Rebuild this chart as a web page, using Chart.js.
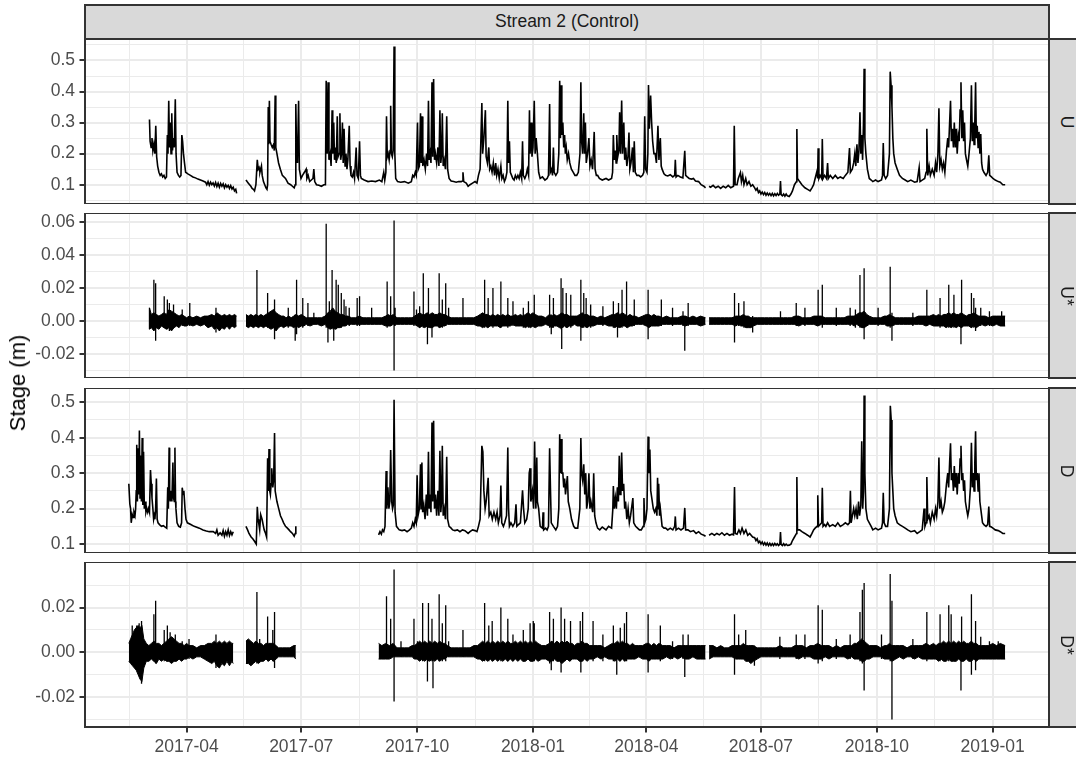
<!DOCTYPE html>
<html>
<head>
<meta charset="utf-8">
<script src="https://cdn.jsdelivr.net/npm/chart.js@4.4.1/dist/chart.umd.min.js"></script>
<style>
html,body{margin:0;padding:0;background:#fff;}
#wrap{position:relative;width:1076px;height:757px;overflow:hidden;background:#fff;font-family:"Liberation Sans",Arial,sans-serif;}
#wrap canvas{position:absolute;left:0;}
.strip{position:absolute;background:#D9D9D9;border:2px solid #333;box-sizing:border-box;z-index:2;}
.txt{position:absolute;white-space:nowrap;transform-origin:center center;z-index:3;line-height:1;}
</style>
</head>
<body>
<div id="wrap"></div>
<script>
// ---------- DATA (x = days since 2017-01-01) ----------
const DAY0 = '2017-01-01';
const STRIP_TITLE = 'Stream 2 (Control)';
const PANEL_LABELS = ['U', 'U*', 'D', 'D*'];
const Y_TITLE = 'Stage (m)';
const X_TICK_DATES = ['2017-04-01','2017-07-01','2017-10-01','2018-01-01','2018-04-01','2018-07-01','2018-10-01','2019-01-01'];
const X_TICK_LABELS = ['2017-04','2017-07','2017-10','2018-01','2018-04','2018-07','2018-10','2019-01'];
const X_GRID_EDGE_DATES = ['2017-01-01','2019-04-01'];
const U_TICKS = [0.1,0.2,0.3,0.4,0.5];
const UST_TICKS = [-0.02,0,0.02,0.04,0.06];
const D_TICKS = [0.1,0.2,0.3,0.4,0.5];
const DST_TICKS = [-0.02,0,0.02];

// Upstream stage [day, value]; null = gap
const U_SERIES = [
[60.5,0.31],[61,0.24],[61.8,0.22],[62.5,0.25],[63.2,0.21],[64,0.23],[64.8,0.2],[65.5,0.29],[66.2,0.19],[67,0.16],[68,0.14],[69,0.13],[70,0.135],[71,0.125],[72,0.13],[73,0.12],[74,0.125],[74.7,0.26],[75.2,0.2],[75.8,0.37],[76.4,0.22],[77,0.3],[77.6,0.2],[78.2,0.33],[78.8,0.21],[79.5,0.25],[80.2,0.22],[81,0.375],[81.6,0.2],[82.4,0.14],[83.5,0.13],[84.5,0.125],[85.5,0.13],[86.2,0.26],[86.8,0.24],[87.5,0.2],[88.3,0.17],[89.2,0.14],[91,0.135],[93,0.13],[95,0.125],[97,0.122],[99,0.118],[101,0.115],[103,0.112],[105,0.108],[106,0.1],[107,0.11],[108,0.098],[109,0.108],[110,0.1],[111,0.106],[112,0.096],[113,0.107],[114,0.094],[115,0.105],[116,0.092],[117,0.104],[118,0.095],[119,0.103],[120,0.09],[121,0.1],[122,0.092],[123,0.098],[124,0.088],[125,0.097],[126,0.086],[127,0.092],[128,0.08],[129,0.085],[129.7,0.072],
null,
[137.1,0.115],[138,0.11],[139,0.105],[140,0.1],[141,0.095],[142,0.088],[143,0.085],[143.9,0.08],[145,0.1],[146.1,0.18],[146.8,0.15],[147.5,0.155],[148.2,0.14],[149.4,0.16],[150,0.13],[151,0.11],[152,0.1],[153,0.09],[153.8,0.085],[154.3,0.1],[154.8,0.35],[155.2,0.23],[155.7,0.37],[156.2,0.24],[157,0.23],[158,0.22],[159,0.23],[159.6,0.21],[160.3,0.387],[160.8,0.22],[161.7,0.2],[163,0.17],[164.4,0.15],[166,0.13],[168.5,0.12],[170.5,0.105],[172.6,0.1],[174,0.095],[175.4,0.09],[176.2,0.1],[176.7,0.36],[177.3,0.2],[178,0.17],[178.9,0.37],[179.5,0.15],[180.8,0.12],[182,0.13],[183.5,0.14],[184.9,0.15],[185.5,0.12],[186.5,0.13],[187.7,0.11],[189,0.115],[190.3,0.12],[191,0.15],[191.7,0.11],[193.1,0.1],[195,0.098],[197,0.095],[199,0.1],[200.2,0.1],[200.8,0.435],[201.6,0.2],[202.3,0.43],[203,0.18],[204,0.2],[204.7,0.16],[205.5,0.34],[206,0.2],[206.8,0.3],[207.4,0.18],[208,0.22],[208.8,0.17],[209.6,0.32],[210.2,0.19],[211,0.2],[211.7,0.33],[212.3,0.18],[213,0.2],[213.7,0.3],[214.3,0.17],[215,0.28],[215.8,0.16],[216.5,0.2],[217.3,0.15],[218,0.18],[219.1,0.29],[219.8,0.16],[220.5,0.13],[221.5,0.125],[222.5,0.14],[223.3,0.12],[224.6,0.22],[225.3,0.13],[226.3,0.12],[227.3,0.24],[228,0.13],[228.7,0.12],[231,0.115],[234,0.11],[237,0.112],[240,0.11],[243,0.115],[245,0.11],[246.5,0.14],[247.3,0.115],[248.2,0.14],[248.7,0.32],[249.3,0.19],[250,0.2],[250.8,0.18],[251.5,0.21],[252,0.354],[252.6,0.2],[253.3,0.19],[254,0.21],[254.7,0.545],[255.3,0.2],[256,0.12],[257.5,0.11],[260,0.108],[263,0.11],[266,0.105],[268.4,0.11],[269.5,0.13],[270.5,0.125],[271.5,0.14],[272.3,0.13],[273.3,0.3],[273.9,0.15],[274.8,0.16],[275.7,0.33],[276.2,0.17],[276.9,0.32],[277.5,0.16],[278.5,0.18],[279.5,0.15],[280.5,0.2],[281.3,0.16],[282,0.37],[282.6,0.18],[283.3,0.2],[284,0.17],[284.8,0.43],[285.4,0.19],[286.1,0.44],[286.8,0.18],[287.5,0.2],[288.5,0.17],[289.5,0.22],[290.3,0.16],[291.1,0.34],[291.8,0.17],[292.5,0.2],[293,0.33],[293.7,0.16],[294.5,0.18],[295.5,0.15],[296.5,0.32],[297.2,0.15],[298.4,0.12],[300,0.112],[302,0.11],[304,0.108],[306,0.11],[308,0.11],[309,0.112],[309.4,0.14],[310,0.11],[312,0.105],[313.5,0.095],[315,0.1],[317,0.105],[319,0.11],[320.5,0.105],[321.7,0.13],[323,0.15],[324.4,0.363],[325,0.2],[326,0.25],[327.2,0.34],[327.8,0.19],[328.8,0.17],[329.9,0.22],[330.6,0.15],[331.5,0.16],[332.5,0.14],[333.5,0.17],[334.5,0.13],[335.4,0.17],[336.2,0.13],[337.2,0.15],[338.2,0.12],[339.5,0.16],[340.3,0.12],[341.3,0.13],[342.3,0.11],[343.3,0.12],[344.3,0.14],[345,0.37],[345.6,0.17],[346.3,0.24],[347,0.14],[348,0.13],[349,0.12],[350,0.115],[351,0.13],[352,0.12],[353,0.13],[354,0.12],[355,0.14],[356,0.12],[356.7,0.24],[357.3,0.13],[358.5,0.12],[359.5,0.13],[360.5,0.15],[361.5,0.13],[362.2,0.34],[362.7,0.2],[363.5,0.3],[364.2,0.19],[365,0.22],[366,0.37],[366.7,0.2],[367.5,0.25],[368.5,0.2],[369.5,0.14],[370.7,0.12],[372.5,0.125],[374.5,0.115],[376.2,0.12],[377.3,0.13],[378.2,0.36],[378.8,0.14],[379.8,0.15],[380.5,0.13],[381.2,0.22],[381.8,0.14],[383.1,0.13],[384.5,0.14],[385.5,0.2],[386.2,0.435],[386.8,0.25],[387.3,0.42],[387.9,0.26],[388.7,0.3],[389.4,0.22],[390.1,0.26],[390.7,0.2],[391.4,0.22],[392.2,0.18],[393.2,0.2],[394.2,0.17],[395.5,0.15],[397,0.14],[398.3,0.13],[399.7,0.13],[401,0.14],[402.3,0.2],[403,0.43],[403.6,0.24],[404.4,0.2],[405.3,0.33],[405.9,0.2],[406.6,0.3],[407.3,0.17],[408.3,0.2],[409.4,0.25],[410.2,0.16],[411.2,0.18],[412.3,0.15],[413.6,0.27],[414.3,0.15],[415.3,0.13],[416.3,0.13],[417.7,0.12],[420,0.115],[423,0.12],[425,0.115],[427.4,0.12],[428.2,0.14],[428.8,0.26],[429.5,0.18],[430.3,0.21],[431,0.17],[431.5,0.26],[432.3,0.19],[433.2,0.21],[433.8,0.333],[434.5,0.2],[435.4,0.371],[436.1,0.2],[437.1,0.3],[437.8,0.18],[438.6,0.22],[439.5,0.16],[440.4,0.19],[441.2,0.268],[441.9,0.15],[442.8,0.17],[444,0.22],[444.7,0.14],[445.4,0.24],[446.2,0.14],[447.5,0.13],[449,0.13],[450.5,0.125],[452,0.13],[453,0.14],[453.7,0.32],[454.4,0.15],[455.5,0.14],[456.2,0.2],[456.7,0.421],[457.4,0.28],[458.4,0.387],[459.2,0.3],[460,0.24],[461,0.2],[462,0.2],[463,0.17],[464.2,0.29],[465,0.18],[466.1,0.25],[466.8,0.16],[467.5,0.15],[469,0.135],[470.3,0.13],[472,0.128],[474,0.132],[476,0.125],[477.5,0.13],[478,0.18],[478.6,0.125],[480,0.13],[482,0.125],[484,0.122],[485.5,0.209],[486.2,0.13],[487.5,0.125],[489,0.12],[491,0.118],[492.4,0.12],[494,0.112],[496.5,0.11],[498.5,0.1],[500.7,0.095],[502,0.09],
null,
[504.8,0.095],[506,0.092],[508,0.098],[510,0.09],[512,0.095],[514,0.088],[516,0.095],[518,0.09],[520,0.098],[522,0.09],[524.2,0.095],[524.8,0.29],[525.5,0.1],[527,0.1],[528,0.12],[529.7,0.139],[530.5,0.11],[531.5,0.13],[532.5,0.1],[533.9,0.12],[535,0.1],[536.5,0.11],[538,0.095],[539.4,0.1],[541,0.09],[542,0.082],[543,0.088],[544,0.075],[545,0.08],[546,0.07],[547,0.076],[548,0.068],[549,0.075],[550,0.066],[551,0.073],[552,0.066],[553,0.072],[554,0.065],[555,0.072],[556,0.064],[557,0.071],[558,0.065],[559,0.072],[560,0.066],[561,0.07],[561.5,0.112],[562,0.068],[563,0.064],[564,0.07],[565,0.063],[566,0.07],[567,0.064],[568.4,0.062],[569.8,0.07],[571,0.08],[572.6,0.1],[574.2,0.11],[574.5,0.279],[575,0.12],[576.7,0.11],[578.5,0.1],[580.9,0.09],[583,0.085],[585,0.08],[586.5,0.09],[587.8,0.1],[589,0.12],[590.5,0.144],[591,0.12],[591.4,0.217],[592,0.12],[593,0.13],[594.2,0.12],[594.7,0.247],[595.3,0.12],[596.5,0.13],[598,0.12],[598.9,0.17],[599.5,0.12],[601,0.13],[603,0.12],[605,0.13],[607,0.12],[609,0.125],[611.3,0.12],[613,0.13],[615,0.14],[616.3,0.218],[617,0.14],[618.5,0.15],[619.6,0.17],[620.5,0.2],[621.3,0.16],[622.2,0.23],[623,0.17],[623.8,0.21],[624.6,0.333],[625.3,0.2],[626,0.26],[626.7,0.18],[627.4,0.3],[627.9,0.473],[628.5,0.25],[629.3,0.2],[630.5,0.15],[632,0.12],[633.5,0.115],[634.8,0.11],[637,0.115],[639,0.11],[641.7,0.115],[642.5,0.13],[643.1,0.234],[643.8,0.13],[645,0.12],[646.5,0.13],[648,0.2],[648.6,0.464],[649.3,0.42],[650,0.35],[650.7,0.25],[651.4,0.2],[652.5,0.17],[654.2,0.15],[656,0.13],[658.3,0.12],[660.5,0.115],[662.5,0.11],[665,0.115],[668,0.108],[670,0.11],[671.6,0.155],[672.3,0.11],[674,0.115],[676,0.12],[677.1,0.14],[677.7,0.28],[678.4,0.13],[679.5,0.16],[680.5,0.13],[682,0.15],[683.5,0.13],[684.6,0.17],[685.5,0.14],[686.5,0.2],[687.3,0.346],[688,0.16],[689,0.18],[690,0.15],[691,0.17],[692,0.14],[693.3,0.21],[694.3,0.25],[695,0.22],[695.8,0.3],[696.5,0.37],[697.2,0.24],[698,0.28],[698.8,0.22],[699.5,0.3],[700.3,0.22],[701,0.28],[701.8,0.2],[702.6,0.26],[703.4,0.24],[704.1,0.34],[704.8,0.43],[705.5,0.25],[706.2,0.34],[706.9,0.24],[707.6,0.3],[708.3,0.2],[709.2,0.18],[710.2,0.16],[711.2,0.2],[712.3,0.25],[713.1,0.42],[713.8,0.24],[714.5,0.3],[715.2,0.23],[715.8,0.3],[716.4,0.43],[717,0.25],[717.7,0.29],[718.4,0.22],[719.1,0.27],[719.8,0.2],[720.5,0.263],[721.2,0.17],[721.9,0.15],[723,0.14],[724.7,0.13],[726,0.14],[726.9,0.195],[727.6,0.13],[729,0.125],[730.2,0.12],[732,0.115],[734.4,0.11],[736,0.108],[738,0.1],[739.9,0.1]
];

// Upstream residual: noise band [day, upper, lower]; null = gap
const UST_BAND = [
[60.5,0.008,-0.005],[62,0.004,-0.004],[64,0.005,-0.006],[66,0.004,-0.004],[68,0.003,-0.005],[70,0.004,-0.003],[72,0.005,-0.004],[74,0.004,-0.005],[76,0.007,-0.004],[78,0.006,-0.006],[80,0.005,-0.004],[82,0.004,-0.003],[84,0.003,-0.004],[86,0.004,-0.002],[88,0.003,-0.003],[90,0.002,-0.003],[92,0.003,-0.002],[95,0.002,-0.003],[98,0.003,-0.002],[101,0.002,-0.003],[104,0.003,-0.002],[107,0.003,-0.004],[110,0.004,-0.003],[112,0.003,-0.005],[114,0.005,-0.004],[116,0.004,-0.006],[118,0.003,-0.004],[120,0.004,-0.005],[122,0.003,-0.003],[124,0.004,-0.005],[126,0.003,-0.003],[128,0.004,-0.004],[129.7,0.003,-0.003],
null,
[137.1,0.004,-0.003],[139,0.003,-0.004],[141,0.004,-0.003],[143,0.003,-0.004],[145,0.004,-0.003],[147,0.003,-0.004],[149,0.004,-0.003],[151,0.003,-0.004],[153,0.004,-0.003],[155,0.005,-0.004],[157,0.006,-0.005],[159,0.007,-0.004],[161,0.005,-0.006],[163,0.004,-0.004],[165,0.003,-0.003],[167,0.003,-0.004],[169,0.002,-0.003],[171,0.003,-0.003],[173,0.002,-0.003],[175,0.003,-0.004],[177,0.004,-0.003],[179,0.003,-0.004],[181,0.004,-0.003],[183,0.003,-0.003],[185,0.002,-0.002],[188,0.002,-0.003],[191,0.002,-0.002],[194,0.002,-0.002],[197,0.002,-0.003],[200,0.003,-0.002],[202,0.005,-0.004],[204,0.006,-0.005],[206,0.008,-0.004],[208,0.006,-0.005],[210,0.005,-0.004],[212,0.004,-0.004],[214,0.004,-0.003],[216,0.003,-0.003],[218,0.003,-0.002],[221,0.002,-0.002],[224,0.002,-0.002],[227,0.003,-0.002],[230,0.002,-0.002],[233,0.002,-0.002],[236,0.002,-0.002],[239,0.002,-0.002],[242,0.002,-0.002],[245,0.002,-0.002],[248,0.003,-0.003],[250,0.004,-0.003],[252,0.003,-0.003],[254,0.004,-0.002],[257,0.002,-0.002],[260,0.002,-0.002],[263,0.002,-0.002],[266,0.002,-0.002],[269,0.002,-0.002],[271,0.003,-0.002],[273,0.004,-0.003],[275,0.005,-0.004],[277,0.004,-0.003],[279,0.004,-0.004],[281,0.005,-0.003],[283,0.004,-0.004],[285,0.005,-0.004],[287,0.004,-0.003],[289,0.004,-0.003],[291,0.005,-0.004],[293,0.004,-0.003],[295,0.004,-0.003],[297,0.003,-0.002],[300,0.002,-0.002],[303,0.002,-0.002],[306,0.002,-0.002],[309,0.002,-0.002],[312,0.002,-0.002],[315,0.002,-0.002],[318,0.002,-0.002],[321,0.003,-0.003],[323,0.004,-0.003],[325,0.005,-0.004],[327,0.004,-0.003],[329,0.004,-0.004],[331,0.003,-0.003],[333,0.004,-0.003],[335,0.003,-0.003],[337,0.004,-0.003],[339,0.003,-0.004],[341,0.004,-0.003],[343,0.003,-0.003],[345,0.004,-0.003],[347,0.003,-0.003],[349,0.003,-0.002],[351,0.004,-0.003],[353,0.003,-0.003],[355,0.004,-0.003],[357,0.003,-0.003],[359,0.004,-0.004],[361,0.005,-0.003],[363,0.004,-0.004],[365,0.005,-0.003],[367,0.004,-0.004],[369,0.003,-0.003],[372,0.003,-0.003],[375,0.002,-0.002],[378,0.004,-0.003],[380,0.003,-0.004],[382,0.004,-0.003],[384,0.003,-0.003],[386,0.004,-0.004],[388,0.005,-0.004],[390,0.004,-0.003],[392,0.004,-0.004],[394,0.003,-0.003],[396,0.003,-0.003],[398,0.003,-0.002],[400,0.003,-0.003],[402,0.004,-0.003],[404,0.005,-0.004],[406,0.004,-0.003],[408,0.004,-0.004],[410,0.003,-0.003],[413,0.003,-0.003],[416,0.002,-0.002],[419,0.003,-0.002],[422,0.002,-0.002],[425,0.003,-0.003],[428,0.004,-0.003],[430,0.004,-0.004],[432,0.005,-0.003],[434,0.004,-0.004],[436,0.005,-0.003],[438,0.004,-0.003],[440,0.003,-0.004],[442,0.004,-0.003],[444,0.003,-0.003],[446,0.003,-0.002],[449,0.002,-0.002],[452,0.003,-0.002],[455,0.004,-0.003],[457,0.004,-0.004],[459,0.003,-0.003],[461,0.004,-0.003],[463,0.003,-0.003],[465,0.003,-0.003],[468,0.002,-0.002],[471,0.003,-0.002],[474,0.002,-0.002],[477,0.002,-0.002],[480,0.002,-0.002],[483,0.003,-0.002],[486,0.003,-0.003],[489,0.002,-0.002],[492,0.003,-0.002],[495,0.002,-0.002],[498,0.003,-0.003],[502,0.002,-0.002],
null,
[504.8,0.002,-0.002],[508,0.002,-0.002],[511,0.002,-0.002],[514,0.002,-0.002],[517,0.002,-0.002],[520,0.002,-0.002],[523,0.002,-0.002],[526,0.003,-0.003],[528,0.003,-0.002],[530,0.003,-0.003],[532,0.004,-0.003],[534,0.003,-0.004],[536,0.003,-0.004],[538,0.002,-0.004],[540,0.002,-0.003],[543,0.002,-0.002],[546,0.002,-0.002],[549,0.002,-0.002],[552,0.002,-0.002],[555,0.002,-0.002],[558,0.002,-0.002],[561,0.002,-0.002],[564,0.002,-0.002],[567,0.002,-0.002],[570,0.002,-0.002],[573,0.003,-0.002],[576,0.003,-0.003],[579,0.002,-0.002],[582,0.002,-0.002],[585,0.002,-0.002],[588,0.003,-0.002],[591,0.003,-0.003],[594,0.003,-0.002],[597,0.002,-0.002],[600,0.002,-0.002],[603,0.002,-0.002],[606,0.002,-0.002],[609,0.002,-0.002],[612,0.002,-0.002],[615,0.003,-0.002],[618,0.003,-0.002],[620,0.003,-0.003],[622,0.004,-0.002],[624,0.005,-0.003],[626,0.005,-0.004],[628,0.006,-0.004],[630,0.004,-0.003],[632,0.003,-0.002],[635,0.002,-0.002],[638,0.002,-0.002],[641,0.002,-0.002],[644,0.003,-0.002],[646,0.003,-0.003],[648,0.004,-0.003],[650,0.003,-0.003],[653,0.002,-0.002],[656,0.002,-0.002],[659,0.002,-0.002],[662,0.002,-0.002],[665,0.002,-0.002],[668,0.002,-0.002],[671,0.003,-0.002],[674,0.003,-0.002],[677,0.003,-0.003],[680,0.003,-0.002],[683,0.004,-0.003],[685,0.003,-0.003],[687,0.004,-0.003],[689,0.003,-0.003],[691,0.004,-0.003],[693,0.004,-0.004],[695,0.005,-0.003],[697,0.004,-0.004],[699,0.005,-0.003],[701,0.004,-0.004],[703,0.004,-0.003],[705,0.005,-0.004],[707,0.004,-0.003],[709,0.003,-0.003],[711,0.004,-0.003],[713,0.004,-0.004],[715,0.005,-0.003],[717,0.004,-0.004],[719,0.003,-0.003],[721,0.003,-0.002],[724,0.003,-0.003],[727,0.002,-0.002],[730,0.003,-0.003],[733,0.003,-0.002],[736,0.003,-0.003],[739.9,0.003,-0.003]
];
// Upstream residual spikes [day, low, high]
const UST_SPIKES = [
[60.5,-0.005,0.008],[64,-0.004,0.025],[65.4,-0.012,0.023],[72.2,-0.004,0.015],[74.7,-0.005,0.013],[76.3,-0.006,0.011],[79.6,-0.004,0.01],[86.5,-0.003,0.007],[92.5,-0.003,0.011],[113.3,-0.007,0.008],[145.8,-0.003,0.031],[154.3,-0.004,0.017],[159.8,-0.011,0.013],[170.7,-0.004,0.008],[176.2,-0.012,0.004],[177.3,-0.008,0.025],[182.2,-0.004,0.014],[186.3,-0.003,0.011],[191,-0.002,0.005],[200.8,-0.004,0.059],[202.2,-0.013,0.004],[203.3,-0.004,0.012],[205.5,-0.005,0.031],[206.8,-0.012,0.004],[208.7,-0.005,0.025],[210.4,-0.004,0.022],[212.8,-0.004,0.017],[215,-0.003,0.013],[216.5,-0.003,0.009],[219.1,-0.003,0.008],[225.4,-0.003,0.014],[227.3,-0.003,0.015],[236.9,-0.002,0.008],[249.2,-0.004,0.024],[252,-0.003,0.015],[254.7,-0.03,0.061],[255.5,-0.003,0.008],[270.5,-0.003,0.018],[272.5,-0.003,0.007],[275,-0.004,0.009],[277.9,-0.004,0.029],[281.2,-0.014,0.004],[282,-0.004,0.02],[284.8,-0.01,0.004],[290.5,-0.004,0.029],[293,-0.004,0.013],[295.7,-0.003,0.023],[298,-0.002,0.008],[309.4,-0.002,0.014],[326.6,-0.004,0.025],[329.4,-0.004,0.014],[333.2,-0.004,0.02],[339.5,-0.004,0.024],[345,-0.004,0.014],[349.1,-0.003,0.012],[357.3,-0.004,0.008],[361.4,-0.004,0.012],[366,-0.004,0.016],
[378.2,-0.004,0.016],[379.5,-0.008,0.004],[381.2,-0.004,0.014],[387.3,-0.005,0.026],[387.8,-0.017,0.004],[388.7,-0.004,0.02],[391.4,-0.004,0.017],[395,-0.004,0.016],[403,-0.012,0.025],[405.3,-0.004,0.017],[407.2,-0.004,0.014],[410.8,-0.004,0.01],[420.5,-0.003,0.009],[428.8,-0.004,0.012],[432.1,-0.01,0.004],[432.9,-0.004,0.011],[435.7,-0.004,0.019],[439.3,-0.004,0.024],[445.4,-0.003,0.013],[456.4,-0.011,0.019],[466.9,-0.003,0.013],[475.8,-0.003,0.008],[484.1,-0.003,0.006],[485.5,-0.018,0.003],[488.2,-0.003,0.011],[525,-0.013,0.017],[528.3,-0.003,0.011],[532.5,-0.004,0.012],[539.4,-0.007,0.003],[561.5,-0.002,0.006],[574,-0.003,0.011],[580.9,-0.003,0.008],[591.4,-0.003,0.019],[594.7,-0.004,0.022],[605.8,-0.003,0.008],[616.8,-0.003,0.008],[621,-0.004,0.007],[624.6,-0.004,0.028],[627.9,-0.011,0.032],[639,-0.003,0.008],[648.6,-0.004,0.033],[650,-0.012,0.005],[666.6,-0.003,0.005],[677.7,-0.003,0.019],[688.2,-0.004,0.014],[695.1,-0.004,0.022],[699.2,-0.004,0.016],[704.8,-0.014,0.004],[705.3,-0.004,0.025],[713.1,-0.004,0.017],[715,-0.004,0.014],[716.4,-0.006,0.008],[720.5,-0.003,0.008],[727.4,-0.003,0.006],[737.1,-0.003,0.006]
];

// Downstream stage [day, value]; null = gap
const D_SERIES = [
[44.1,0.27],[44.9,0.213],[45.5,0.2],[46,0.16],[46.8,0.183],[47.5,0.175],[48.2,0.19],[49,0.18],[49.5,0.2],[50,0.25],[50.4,0.38],[50.9,0.22],[51.5,0.37],[52,0.24],[52.5,0.42],[53,0.23],[53.6,0.35],[54.1,0.22],[54.7,0.399],[55.2,0.21],[55.8,0.36],[56.4,0.2],[57,0.22],[57.7,0.19],[58.4,0.2],[59.1,0.19],[59.8,0.2],[60.5,0.19],[61.3,0.309],[61.9,0.27],[62.5,0.23],[63.2,0.2],[63.8,0.17],[64.3,0.18],[64.8,0.17],[65.4,0.2],[66,0.285],[66.6,0.17],[67.3,0.16],[68.5,0.155],[70,0.15],[71.5,0.152],[73,0.148],[74.2,0.145],[75,0.26],[75.5,0.2],[76.1,0.372],[76.5,0.24],[77,0.22],[77.6,0.25],[78.3,0.22],[79.1,0.33],[79.6,0.23],[80.2,0.22],[80.7,0.372],[81.2,0.22],[81.5,0.2],[82.4,0.16],[83.7,0.15],[85,0.148],[86,0.16],[86.5,0.259],[87.2,0.24],[87.8,0.25],[88.7,0.2],[89.5,0.17],[90.6,0.16],[93.3,0.155],[96,0.15],[100.1,0.145],[103,0.14],[105.6,0.137],[108,0.135],[111.1,0.135],[113,0.13],[114,0.14],[115,0.125],[116.6,0.132],[118,0.125],[119,0.138],[120,0.122],[121,0.135],[122,0.125],[123,0.14],[124,0.124],[125,0.135],[126,0.126],[127,0.135],
null,
[137.1,0.15],[138.4,0.14],[139.5,0.13],[141.2,0.12],[142.5,0.115],[143.9,0.108],[145.3,0.1],[146.1,0.205],[146.7,0.17],[147.2,0.16],[148,0.14],[148.8,0.183],[149.9,0.17],[151,0.15],[151.6,0.14],[152.7,0.13],[153.5,0.12],[154.3,0.342],[154.9,0.25],[155.4,0.368],[156,0.25],[156.5,0.24],[157.1,0.27],[157.6,0.314],[158.4,0.26],[159.1,0.28],[159.8,0.413],[160.3,0.25],[161.7,0.22],[163.1,0.2],[164.5,0.18],[165.8,0.17],[167,0.16],[168.5,0.15],[170,0.145],[171.3,0.14],[172.5,0.135],[174,0.13],[175.4,0.122],[176.2,0.13],[176.7,0.15],
null,
[242.4,0.126],[243.5,0.135],[244.6,0.128],[245.5,0.14],[246.5,0.135],[247.5,0.15],[248.4,0.306],[249,0.2],[249.8,0.26],[250.6,0.2],[251.3,0.22],[252,0.365],[252.8,0.22],[253.5,0.2],[254.1,0.21],[254.7,0.507],[255.5,0.19],[256.6,0.15],[258.8,0.14],[261,0.138],[263,0.14],[265,0.135],[267,0.14],[268.4,0.145],[269.5,0.16],[270.5,0.15],[271.5,0.17],[272.3,0.16],[273,0.294],[273.7,0.18],[274.8,0.2],[275.7,0.325],[276.2,0.2],[276.8,0.33],[277.4,0.19],[278.3,0.21],[279.3,0.17],[280.3,0.24],[281.2,0.18],[282,0.36],[282.6,0.2],[283.3,0.24],[284,0.19],[284.8,0.443],[285.4,0.22],[286.1,0.448],[286.8,0.2],[287.6,0.24],[288.5,0.18],[289.5,0.25],[290.3,0.18],[291.1,0.363],[291.8,0.19],[292.4,0.22],[293,0.377],[293.7,0.18],[294.5,0.2],[295.5,0.17],[296.5,0.346],[297.2,0.17],[298.4,0.15],[300,0.145],[301.2,0.14],[303,0.138],[305,0.14],[307,0.135],[309,0.14],[311,0.138],[313.5,0.13],[315,0.135],[317,0.14],[319,0.138],[320.5,0.135],[321.7,0.15],[323,0.17],[324.4,0.377],[325.2,0.36],[326,0.25],[327,0.2],[327.8,0.22],[329.4,0.287],[330.2,0.18],[331.5,0.19],[332.7,0.17],[334,0.19],[335.4,0.17],[336.5,0.19],[337.5,0.16],[338.8,0.18],[339.5,0.265],[340.2,0.16],[341.5,0.15],[342.5,0.16],[344,0.18],[345,0.372],[345.6,0.2],[346.3,0.15],[347.5,0.16],[349,0.15],[350.5,0.16],[351.5,0.212],[352.2,0.15],[353.5,0.155],[355,0.16],[356.7,0.252],[357.5,0.2],[358.5,0.16],[360,0.17],[361.2,0.2],[362,0.3],[362.7,0.314],[363.3,0.22],[364.5,0.25],[365.5,0.2],[366.3,0.389],[366.9,0.25],[367.3,0.2],[368,0.344],[368.5,0.22],[369.5,0.2],[370.7,0.15],[372.5,0.145],[373,0.19],[373.5,0.14],[375,0.145],[376.2,0.14],[377.3,0.15],[378.2,0.37],[378.9,0.25],[379.5,0.16],[381.2,0.15],[383.1,0.14],[384.5,0.15],[385.5,0.2],[386.2,0.41],[386.8,0.3],[387.3,0.396],[388,0.3],[388.7,0.3],[389.4,0.26],[390.1,0.285],[390.8,0.24],[391.4,0.26],[392.3,0.292],[393,0.22],[394.2,0.2],[395.6,0.17],[397.3,0.15],[398.5,0.145],[400.5,0.145],[402.2,0.2],[403,0.399],[403.6,0.3],[404.4,0.28],[405.3,0.325],[406.1,0.24],[406.9,0.3],[407.6,0.2],[408.5,0.22],[409.4,0.3],[410.2,0.2],[411,0.22],[412.4,0.19],[413.2,0.3],[414,0.18],[415,0.16],[416.3,0.145],[418,0.14],[420,0.148],[423,0.14],[425,0.15],[427.4,0.145],[428.4,0.2],[428.8,0.264],[429.5,0.2],[430.4,0.23],[431.2,0.2],[432,0.26],[432.8,0.22],[433.5,0.349],[434.2,0.24],[434.8,0.27],[435.4,0.358],[436.1,0.25],[437,0.27],[437.8,0.2],[438.5,0.22],[439.5,0.17],[440.5,0.2],[441.5,0.16],[442.5,0.18],[444.3,0.23],[445,0.16],[446.5,0.15],[448,0.145],[449.5,0.14],[451,0.14],[452.5,0.15],[453.1,0.23],[453.7,0.16],[454.6,0.17],[455.5,0.2],[456.4,0.403],[457,0.3],[457.8,0.367],[458.5,0.25],[459.3,0.23],[460.5,0.2],[461.5,0.19],[462.5,0.2],[463.4,0.18],[463.9,0.287],[464.5,0.2],[464.8,0.27],[465.5,0.18],[466.1,0.2],[467.5,0.15],[469,0.145],[470.3,0.145],[472,0.14],[474,0.145],[476,0.14],[477.5,0.15],[478,0.178],[478.6,0.14],[480.5,0.145],[482.5,0.14],[484.5,0.145],[485.5,0.202],[486.2,0.14],[488,0.14],[490,0.135],[492.5,0.138],[494.5,0.13],[496.5,0.135],[498.5,0.128],[500.7,0.125],[502,0.122],
null,
[504.8,0.125],[507,0.13],[509,0.125],[511,0.13],[513,0.126],[515,0.132],[517,0.125],[519,0.13],[521,0.125],[523,0.128],[524.2,0.126],[525,0.261],[525.6,0.13],[527,0.128],[528.5,0.14],[529.7,0.13],[531,0.145],[532.5,0.13],[534,0.14],[535.5,0.125],[537,0.13],[539.4,0.12],[541,0.118],[542,0.11],[543,0.115],[544,0.104],[545,0.108],[546,0.1],[547,0.106],[548,0.098],[549,0.104],[550,0.097],[551,0.103],[552,0.096],[553,0.102],[554,0.096],[555,0.101],[556,0.096],[557,0.102],[558,0.097],[559,0.101],[560,0.096],[561,0.1],[561.5,0.134],[562,0.099],[563,0.096],[564,0.101],[565,0.096],[566,0.1],[567,0.096],[568.4,0.097],[569.8,0.1],[571,0.11],[572.6,0.12],[574.2,0.13],[574.5,0.289],[575,0.14],[576.7,0.14],[578.5,0.135],[580.9,0.13],[583,0.125],[585,0.12],[586.5,0.13],[587.8,0.14],[589,0.145],[590.5,0.15],[591.1,0.238],[591.7,0.15],[593,0.155],[594.2,0.16],[594.7,0.259],[595.3,0.15],[596.5,0.155],[597.5,0.15],[598.9,0.16],[600.5,0.15],[603,0.155],[605,0.15],[607,0.16],[609,0.15],[611.3,0.155],[613,0.16],[615,0.155],[616.3,0.16],[617,0.25],[617.6,0.16],[619.6,0.2],[620.5,0.18],[621.5,0.2],[622.5,0.17],[623.5,0.22],[624.3,0.18],[625.3,0.21],[626,0.39],[626.8,0.2],[627.4,0.25],[627.9,0.519],[628.5,0.3],[629.3,0.2],[630.5,0.17],[632,0.16],[633.5,0.15],[634.8,0.14],[637,0.145],[639,0.14],[641.7,0.145],[642.5,0.16],[643.1,0.245],[643.8,0.16],[645,0.15],[646.5,0.15],[648,0.2],[648.7,0.49],[649.4,0.45],[650,0.3],[650.7,0.25],[651.4,0.2],[652.5,0.18],[654.2,0.16],[656,0.155],[658.3,0.15],[660.5,0.145],[662.5,0.14],[665,0.135],[668,0.138],[670,0.13],[672.1,0.135],[674,0.14],[675.5,0.2],[676.2,0.15],[677.1,0.16],[677.7,0.289],[678.4,0.17],[679.5,0.18],[680.5,0.16],[682,0.19],[683.5,0.17],[684.6,0.2],[685.5,0.18],[686.5,0.22],[687.3,0.344],[688,0.2],[689,0.22],[690,0.19],[691,0.2],[692,0.22],[693.3,0.27],[694.3,0.3],[695,0.26],[695.8,0.33],[696.5,0.384],[697.2,0.28],[698,0.3],[698.8,0.25],[699.5,0.32],[700.3,0.26],[701,0.3],[701.8,0.24],[702.6,0.3],[703.4,0.27],[704.1,0.34],[704.8,0.377],[705.5,0.28],[706.2,0.3],[706.9,0.25],[707.6,0.28],[708.3,0.22],[709.2,0.2],[710.2,0.18],[711.2,0.2],[712.3,0.26],[713.1,0.386],[713.8,0.26],[714.5,0.3],[715.2,0.25],[715.8,0.33],[716.4,0.418],[717,0.28],[717.7,0.3],[718.4,0.25],[719.1,0.3],[719.8,0.22],[720.5,0.2],[721.2,0.18],[721.9,0.16],[723,0.155],[724.7,0.15],[726,0.155],[726.9,0.206],[727.6,0.15],[729,0.148],[730.2,0.145],[732,0.14],[734.4,0.138],[736,0.135],[738,0.13],[739.9,0.13]
];

// Downstream residual: noise band [day, upper, lower]; null = gap
const DST_BAND = [
[44.1,0.004,-0.004],[45.5,0.006,-0.005],[47,0.008,-0.006],[48.5,0.01,-0.007],[50,0.011,-0.008],[51.5,0.012,-0.01],[53,0.011,-0.012],[54.5,0.012,-0.013],[56,0.006,-0.007],[58,0.004,-0.004],[60,0.003,-0.004],[62,0.004,-0.003],[64,0.005,-0.004],[66,0.004,-0.005],[68,0.004,-0.003],[70,0.003,-0.004],[72,0.004,-0.003],[74,0.005,-0.004],[76,0.006,-0.004],[78,0.007,-0.005],[80,0.006,-0.004],[82,0.005,-0.004],[84,0.004,-0.003],[86,0.004,-0.004],[88,0.003,-0.003],[90,0.004,-0.003],[92,0.003,-0.002],[95,0.003,-0.003],[98,0.002,-0.002],[101,0.003,-0.002],[104,0.003,-0.003],[107,0.004,-0.004],[110,0.004,-0.005],[112,0.005,-0.004],[114,0.004,-0.006],[116,0.005,-0.007],[118,0.004,-0.005],[120,0.005,-0.006],[122,0.004,-0.004],[124,0.005,-0.006],[126,0.004,-0.004],[127,0.004,-0.005],
null,
[137.1,0.005,-0.005],[139,0.006,-0.005],[141,0.005,-0.006],[143,0.004,-0.005],[145,0.005,-0.004],[147,0.004,-0.005],[149,0.004,-0.004],[151,0.003,-0.004],[153,0.004,-0.003],[155,0.004,-0.004],[157,0.004,-0.003],[159,0.004,-0.004],[161,0.003,-0.003],[163,0.002,-0.002],[166,0.002,-0.002],[169,0.002,-0.002],[172,0.002,-0.002],[175,0.003,-0.002],[176.7,0.003,-0.003],
null,
[242.4,0.004,-0.003],[245,0.003,-0.003],[248,0.004,-0.003],[251,0.003,-0.003],[254,0.004,-0.002],[257,0.002,-0.002],[260,0.002,-0.002],[263,0.002,-0.002],[266,0.002,-0.002],[269,0.003,-0.002],[271,0.003,-0.003],[273,0.004,-0.003],[275,0.005,-0.004],[277,0.004,-0.003],[279,0.005,-0.004],[281,0.004,-0.003],[283,0.005,-0.004],[285,0.004,-0.003],[287,0.005,-0.004],[289,0.004,-0.003],[291,0.005,-0.004],[293,0.004,-0.003],[295,0.004,-0.003],[297,0.003,-0.002],[300,0.002,-0.002],[303,0.002,-0.002],[306,0.002,-0.002],[309,0.002,-0.002],[312,0.002,-0.002],[315,0.002,-0.002],[318,0.003,-0.002],[321,0.003,-0.003],[323,0.004,-0.003],[325,0.005,-0.004],[327,0.004,-0.003],[329,0.005,-0.004],[331,0.004,-0.003],[333,0.005,-0.004],[335,0.004,-0.003],[337,0.005,-0.004],[339,0.004,-0.003],[341,0.005,-0.004],[343,0.004,-0.003],[345,0.005,-0.004],[347,0.004,-0.003],[349,0.004,-0.004],[351,0.005,-0.003],[353,0.004,-0.004],[355,0.005,-0.003],[357,0.004,-0.004],[359,0.005,-0.004],[361,0.004,-0.003],[363,0.005,-0.004],[365,0.004,-0.004],[367,0.005,-0.003],[369,0.004,-0.004],[372,0.003,-0.003],[375,0.003,-0.003],[378,0.004,-0.004],[380,0.005,-0.004],[382,0.004,-0.003],[384,0.005,-0.004],[386,0.004,-0.004],[388,0.005,-0.005],[390,0.004,-0.004],[392,0.005,-0.003],[394,0.004,-0.004],[396,0.004,-0.003],[398,0.003,-0.003],[400,0.004,-0.003],[402,0.004,-0.004],[404,0.005,-0.004],[406,0.004,-0.003],[408,0.004,-0.004],[410,0.003,-0.003],[413,0.003,-0.003],[416,0.003,-0.002],[419,0.003,-0.003],[422,0.002,-0.002],[425,0.003,-0.003],[428,0.004,-0.003],[430,0.004,-0.004],[432,0.005,-0.003],[434,0.004,-0.004],[436,0.005,-0.003],[438,0.004,-0.004],[440,0.004,-0.003],[442,0.003,-0.003],[444,0.004,-0.003],[446,0.003,-0.003],[449,0.003,-0.002],[452,0.003,-0.003],[455,0.004,-0.003],[457,0.004,-0.004],[459,0.003,-0.003],[461,0.004,-0.003],[463,0.003,-0.003],[465,0.004,-0.003],[468,0.003,-0.003],[471,0.003,-0.002],[474,0.003,-0.003],[477,0.002,-0.002],[480,0.003,-0.003],[483,0.003,-0.002],[486,0.003,-0.003],[489,0.003,-0.003],[492,0.003,-0.002],[495,0.003,-0.003],[498,0.003,-0.003],[502,0.003,-0.003],
null,
[504.8,0.003,-0.003],[508,0.003,-0.002],[511,0.002,-0.002],[514,0.003,-0.002],[517,0.002,-0.002],[520,0.002,-0.002],[523,0.003,-0.002],[526,0.003,-0.003],[528,0.003,-0.003],[530,0.003,-0.003],[532,0.004,-0.003],[534,0.003,-0.004],[536,0.003,-0.004],[538,0.003,-0.005],[540,0.003,-0.004],[543,0.002,-0.003],[546,0.002,-0.002],[549,0.002,-0.002],[552,0.002,-0.002],[555,0.002,-0.002],[558,0.002,-0.002],[561,0.003,-0.002],[564,0.002,-0.002],[567,0.002,-0.002],[570,0.002,-0.002],[573,0.003,-0.002],[576,0.003,-0.003],[579,0.003,-0.002],[582,0.002,-0.002],[585,0.003,-0.002],[588,0.003,-0.003],[591,0.004,-0.003],[594,0.003,-0.003],[597,0.003,-0.002],[600,0.003,-0.003],[603,0.002,-0.002],[606,0.003,-0.002],[609,0.002,-0.002],[612,0.003,-0.002],[615,0.003,-0.003],[618,0.003,-0.002],[620,0.004,-0.003],[622,0.004,-0.003],[624,0.005,-0.003],[626,0.006,-0.004],[628,0.005,-0.004],[630,0.004,-0.003],[632,0.003,-0.003],[635,0.003,-0.002],[638,0.003,-0.002],[641,0.002,-0.002],[644,0.003,-0.003],[646,0.003,-0.003],[648,0.004,-0.003],[650,0.003,-0.004],[653,0.003,-0.003],[656,0.003,-0.002],[659,0.003,-0.003],[662,0.002,-0.002],[665,0.003,-0.002],[668,0.003,-0.003],[671,0.003,-0.002],[674,0.003,-0.003],[677,0.004,-0.003],[680,0.003,-0.003],[683,0.004,-0.003],[685,0.003,-0.003],[687,0.004,-0.004],[689,0.004,-0.003],[691,0.005,-0.004],[693,0.004,-0.004],[695,0.005,-0.003],[697,0.004,-0.004],[699,0.005,-0.004],[701,0.004,-0.004],[703,0.005,-0.003],[705,0.004,-0.004],[707,0.005,-0.004],[709,0.004,-0.003],[711,0.004,-0.004],[713,0.005,-0.004],[715,0.004,-0.003],[717,0.004,-0.004],[719,0.003,-0.003],[721,0.003,-0.003],[724,0.003,-0.003],[727,0.003,-0.003],[730,0.004,-0.003],[733,0.003,-0.003],[736,0.004,-0.003],[739.9,0.003,-0.003]
];
// Downstream residual spikes [day, low, high]
const DST_SPIKES = [
[46.8,-0.004,0.012],[50.4,-0.008,0.012],[52.3,-0.01,0.013],[54.2,-0.014,0.014],[64,-0.004,0.017],[65.4,-0.005,0.023],[72.2,-0.004,0.01],[74.7,-0.004,0.012],[76.9,-0.004,0.009],[81,-0.004,0.008],[86.5,-0.003,0.005],[91.9,-0.003,0.006],[113.3,-0.007,0.008],[145.8,-0.005,0.027],[148,-0.004,0.006],[154.3,-0.004,0.016],[158.4,-0.004,0.01],[159.8,-0.007,0.018],[248.7,-0.003,0.025],[252,-0.003,0.015],[254.7,-0.022,0.037],[260.2,-0.002,0.005],[270.5,-0.003,0.015],[273.3,-0.003,0.005],[277.4,-0.004,0.022],[281.2,-0.013,0.004],[282,-0.004,0.022],[284.8,-0.004,0.015],[285.6,-0.016,0.004],[290.5,-0.004,0.026],[293,-0.004,0.013],[295.7,-0.004,0.021],[298,-0.002,0.005],[309.4,-0.002,0.01],[326.6,-0.004,0.022],[329.9,-0.004,0.012],[332.6,-0.004,0.014],[339.5,-0.004,0.02],[345,-0.004,0.015],[349.1,-0.004,0.008],[357.3,-0.004,0.01],[362.7,-0.004,0.013],[365.2,-0.004,0.014],[366,-0.004,0.013],
[378.2,-0.005,0.018],[379.5,-0.008,0.005],[381.2,-0.004,0.015],[387.3,-0.009,0.02],[390.1,-0.004,0.015],[394.8,-0.004,0.014],[402.5,-0.004,0.014],[403,-0.009,0.005],[404.4,-0.004,0.018],[412.7,-0.004,0.014],[420.5,-0.004,0.008],[428.8,-0.004,0.012],[431.5,-0.01,0.004],[434.3,-0.004,0.011],[437.6,-0.004,0.013],[439.3,-0.004,0.018],[456.4,-0.009,0.017],[466.1,-0.004,0.012],[475.8,-0.003,0.005],[484.1,-0.003,0.008],[485.5,-0.011,0.003],[488.2,-0.003,0.008],[525,-0.01,0.017],[528.3,-0.003,0.008],[533.9,-0.003,0.01],[540.8,-0.006,0.003],[561,-0.003,0.007],[574,-0.003,0.008],[580.9,-0.003,0.008],[591.4,-0.005,0.021],[594.7,-0.004,0.019],[605.8,-0.003,0.006],[616.8,-0.003,0.008],[624.6,-0.004,0.018],[626.5,-0.005,0.028],[627.9,-0.017,0.031],[641.7,-0.003,0.008],[648.6,-0.004,0.035],[650,-0.03,0.023],[666.6,-0.003,0.006],[677.7,-0.004,0.018],[688.2,-0.004,0.017],[695.1,-0.004,0.021],[697,-0.004,0.017],[704.8,-0.017,0.004],[705.3,-0.004,0.016],[713.1,-0.01,0.026],[716.4,-0.008,0.014],[720.5,-0.003,0.007],[727.4,-0.003,0.005],[734.4,-0.003,0.005]
];

// ---------- LAYOUT ----------
const W = 1076, H = 757;
const PLOT_LEFT = 85, PLOT_RIGHT = 1049;
const PANEL_TOPS = [39, 213, 388, 562];
const PANEL_H = 165;
const X_AXIS_H = 30;
const FONT = '"Liberation Sans", Arial, sans-serif';
const AXIS_FONT_SIZE = 17.5;

function dayOf(s) {
  const a = s.split('-').map(Number), b = DAY0.split('-').map(Number);
  return (Date.UTC(a[0], a[1]-1, a[2]) - Date.UTC(b[0], b[1]-1, b[2])) / 86400000;
}

let xmin = Infinity, xmax = -Infinity;
[U_SERIES, UST_BAND, UST_SPIKES, D_SERIES, DST_BAND, DST_SPIKES].forEach(arr => arr.forEach(p => {
  if (p) { xmin = Math.min(xmin, p[0]); xmax = Math.max(xmax, p[0]); }
}));
const XSPAN = xmax - xmin;
const X_MIN = xmin - 0.05 * XSPAN, X_MAX = xmax + 0.05 * XSPAN;

const xMajorDays = X_TICK_DATES.map(dayOf);
const xGridMajors = [dayOf(X_GRID_EDGE_DATES[0])].concat(xMajorDays, [dayOf(X_GRID_EDGE_DATES[1])]);
const xMinorDays = [];
for (let i = 0; i < xGridMajors.length - 1; i++) xMinorDays.push((xGridMajors[i] + xGridMajors[i+1]) / 2);
const xTickVals = xMajorDays.concat(xMinorDays).filter(v => v >= X_MIN && v <= X_MAX).sort((a,b)=>a-b);
const isXMajor = v => xMajorDays.some(m => Math.abs(m - v) < 1e-6);

function linePoints(arr) {
  const out = []; let lastX = 0;
  for (const p of arr) {
    if (p === null) out.push({x: lastX + 0.01, y: null});
    else { out.push({x: p[0], y: p[1]}); lastX = p[0]; }
  }
  return out;
}
function splitSegments(arr) {
  const segs = [[]];
  for (const p of arr) { if (p === null) segs.push([]); else segs[segs.length-1].push(p); }
  return segs.filter(s => s.length);
}
function spikePoints(arr) {
  const out = [];
  for (const s of arr) out.push({x: s[0], y: s[1]}, {x: s[0], y: s[2]}, {x: s[0] + 0.001, y: null});
  return out;
}

const PANELS = [
  {label: PANEL_LABELS[0], series: U_SERIES, ticks: U_TICKS, dec: 1},
  {label: PANEL_LABELS[1], band: UST_BAND, spikes: UST_SPIKES, ticks: UST_TICKS, dec: 2},
  {label: PANEL_LABELS[2], series: D_SERIES, ticks: D_TICKS, dec: 1},
  {label: PANEL_LABELS[3], band: DST_BAND, spikes: DST_SPIKES, ticks: DST_TICKS, dec: 2},
];

const panelBorder = {
  id: 'panelBorder',
  afterDraw(chart) {
    const {ctx, chartArea: a} = chart;
    ctx.save();
    ctx.strokeStyle = '#333333';
    ctx.lineWidth = 2;
    ctx.strokeRect(a.left, a.top, a.right - a.left, a.bottom - a.top);
    ctx.restore();
  }
};

const wrap = document.getElementById('wrap');

PANELS.forEach((P, i) => {
  const isBottom = i === PANELS.length - 1;
  const top = PANEL_TOPS[i];
  const h = PANEL_H + (isBottom ? X_AXIS_H : 0);
  const cv = document.createElement('canvas');
  cv.width = W; cv.height = h;
  cv.style.width = W + 'px'; cv.style.height = h + 'px'; cv.style.top = top + 'px';
  wrap.appendChild(cv);

  let ymin = Infinity, ymax = -Infinity;
  const vals = [];
  if (P.series) P.series.forEach(p => { if (p) vals.push(p[1]); });
  if (P.band) P.band.forEach(p => { if (p) vals.push(p[1], p[2]); });
  if (P.spikes) P.spikes.forEach(p => vals.push(p[1], p[2]));
  vals.forEach(v => { ymin = Math.min(ymin, v); ymax = Math.max(ymax, v); });
  const ys = ymax - ymin;
  const Y_MIN = ymin - 0.05 * ys, Y_MAX = ymax + 0.05 * ys;

  const step = P.ticks[1] - P.ticks[0];
  const yMinor = [];
  for (let v = P.ticks[0] - step / 2; v <= P.ticks[P.ticks.length-1] + step / 2 + 1e-9; v += step) yMinor.push(+v.toFixed(6));
  const yTickVals = P.ticks.concat(yMinor).filter(v => v >= Y_MIN && v <= Y_MAX).sort((a,b)=>a-b);
  const isYMajor = v => P.ticks.some(m => Math.abs(m - v) < 1e-9);

  const datasets = [];
  if (P.series) {
    datasets.push({type: 'line', data: linePoints(P.series), borderColor: '#000', borderWidth: 1.6,
      pointRadius: 0, tension: 0, fill: false, spanGaps: false});
  }
  if (P.band) {
    splitSegments(P.band).forEach(seg => {
      datasets.push({type: 'line', data: seg.map(p => ({x: p[0], y: p[1]})), borderColor: '#000', borderWidth: 1,
        pointRadius: 0, tension: 0, fill: false});
      datasets.push({type: 'line', data: seg.map(p => ({x: p[0], y: p[2]})), borderColor: '#000', borderWidth: 1,
        pointRadius: 0, tension: 0, fill: '-1', backgroundColor: '#000'});
    });
    datasets.push({type: 'line', data: spikePoints(P.spikes), borderColor: '#000', borderWidth: 1.3,
      pointRadius: 0, tension: 0, fill: false, spanGaps: false});
  }

  new Chart(cv, {
    type: 'line',
    data: {datasets},
    plugins: [panelBorder],
    options: {
      responsive: false, animation: false, devicePixelRatio: 1, events: [],
      layout: {padding: {left: 0, right: W - PLOT_RIGHT, top: 0, bottom: 0}},
      plugins: {legend: {display: false}, tooltip: {enabled: false}},
      scales: {
        x: {
          type: 'linear', min: X_MIN, max: X_MAX, offset: false,
          afterBuildTicks: ax => { ax.ticks = xTickVals.map(v => ({value: v})); },
          afterFit: ax => { ax.height = isBottom ? X_AXIS_H : 0; ax.paddingLeft = 0; ax.paddingRight = 0; },
          border: {display: false},
          grid: {
            color: '#EBEBEB',
            lineWidth: c => (c.tick && isXMajor(c.tick.value)) ? 2 : 1,
            drawTicks: isBottom, tickLength: 5.5, tickWidth: 2,
            tickColor: c => (c.tick && isXMajor(c.tick.value)) ? '#333333' : 'rgba(0,0,0,0)'
          },
          ticks: {
            display: isBottom, autoSkip: false, maxRotation: 0, minRotation: 0, padding: 4,
            color: '#4D4D4D', font: {family: FONT, size: AXIS_FONT_SIZE},
            callback: v => { const k = xMajorDays.findIndex(m => Math.abs(m - v) < 1e-6); return k >= 0 ? X_TICK_LABELS[k] : ''; }
          }
        },
        y: {
          type: 'linear', min: Y_MIN, max: Y_MAX,
          afterBuildTicks: ax => { ax.ticks = yTickVals.map(v => ({value: v})); },
          afterFit: ax => { ax.width = PLOT_LEFT; ax.paddingTop = 0; ax.paddingBottom = 0; },
          border: {display: false},
          grid: {
            color: '#EBEBEB',
            lineWidth: c => (c.tick && isYMajor(c.tick.value)) ? 2 : 1,
            drawTicks: true, tickLength: 5.5, tickWidth: 2,
            tickColor: c => (c.tick && isYMajor(c.tick.value)) ? '#333333' : 'rgba(0,0,0,0)'
          },
          ticks: {
            autoSkip: false, padding: 4.4, color: '#4D4D4D', font: {family: FONT, size: AXIS_FONT_SIZE},
            callback: v => isYMajor(v) ? v.toFixed(P.dec) : ''
          }
        }
      }
    }
  });

  const rs = document.createElement('div');
  rs.className = 'strip';
  rs.style.left = (PLOT_RIGHT - 1) + 'px'; rs.style.top = (top - 1) + 'px';
  rs.style.width = '40px'; rs.style.height = (PANEL_H + 2) + 'px';
  wrap.appendChild(rs);
  const rt = document.createElement('div');
  rt.className = 'txt';
  rt.textContent = P.label;
  rt.style.fontSize = AXIS_FONT_SIZE + 'px'; rt.style.color = '#1A1A1A';
  rt.style.left = '1066px'; rt.style.top = (top + PANEL_H / 2) + 'px';
  rt.style.transform = 'translate(-50%,-50%) rotate(90deg)';
  wrap.appendChild(rt);
});

const ts = document.createElement('div');
ts.className = 'strip';
ts.style.left = (PLOT_LEFT - 1) + 'px'; ts.style.top = '4px';
ts.style.width = (PLOT_RIGHT - PLOT_LEFT + 2) + 'px'; ts.style.height = '36px';
wrap.appendChild(ts);
const tt = document.createElement('div');
tt.className = 'txt';
tt.textContent = STRIP_TITLE;
tt.style.fontSize = AXIS_FONT_SIZE + 'px'; tt.style.color = '#1A1A1A';
tt.style.left = ((PLOT_LEFT + PLOT_RIGHT) / 2) + 'px'; tt.style.top = '22px';
tt.style.transform = 'translate(-50%,-50%)';
wrap.appendChild(tt);

const yt = document.createElement('div');
yt.className = 'txt';
yt.textContent = Y_TITLE;
yt.style.fontSize = '22px'; yt.style.color = '#000';
yt.style.left = '18px'; yt.style.top = ((PANEL_TOPS[0] + PANEL_TOPS[3] + PANEL_H) / 2) + 'px';
yt.style.transform = 'translate(-50%,-50%) rotate(-90deg)';
wrap.appendChild(yt);
</script>
</body>
</html>
